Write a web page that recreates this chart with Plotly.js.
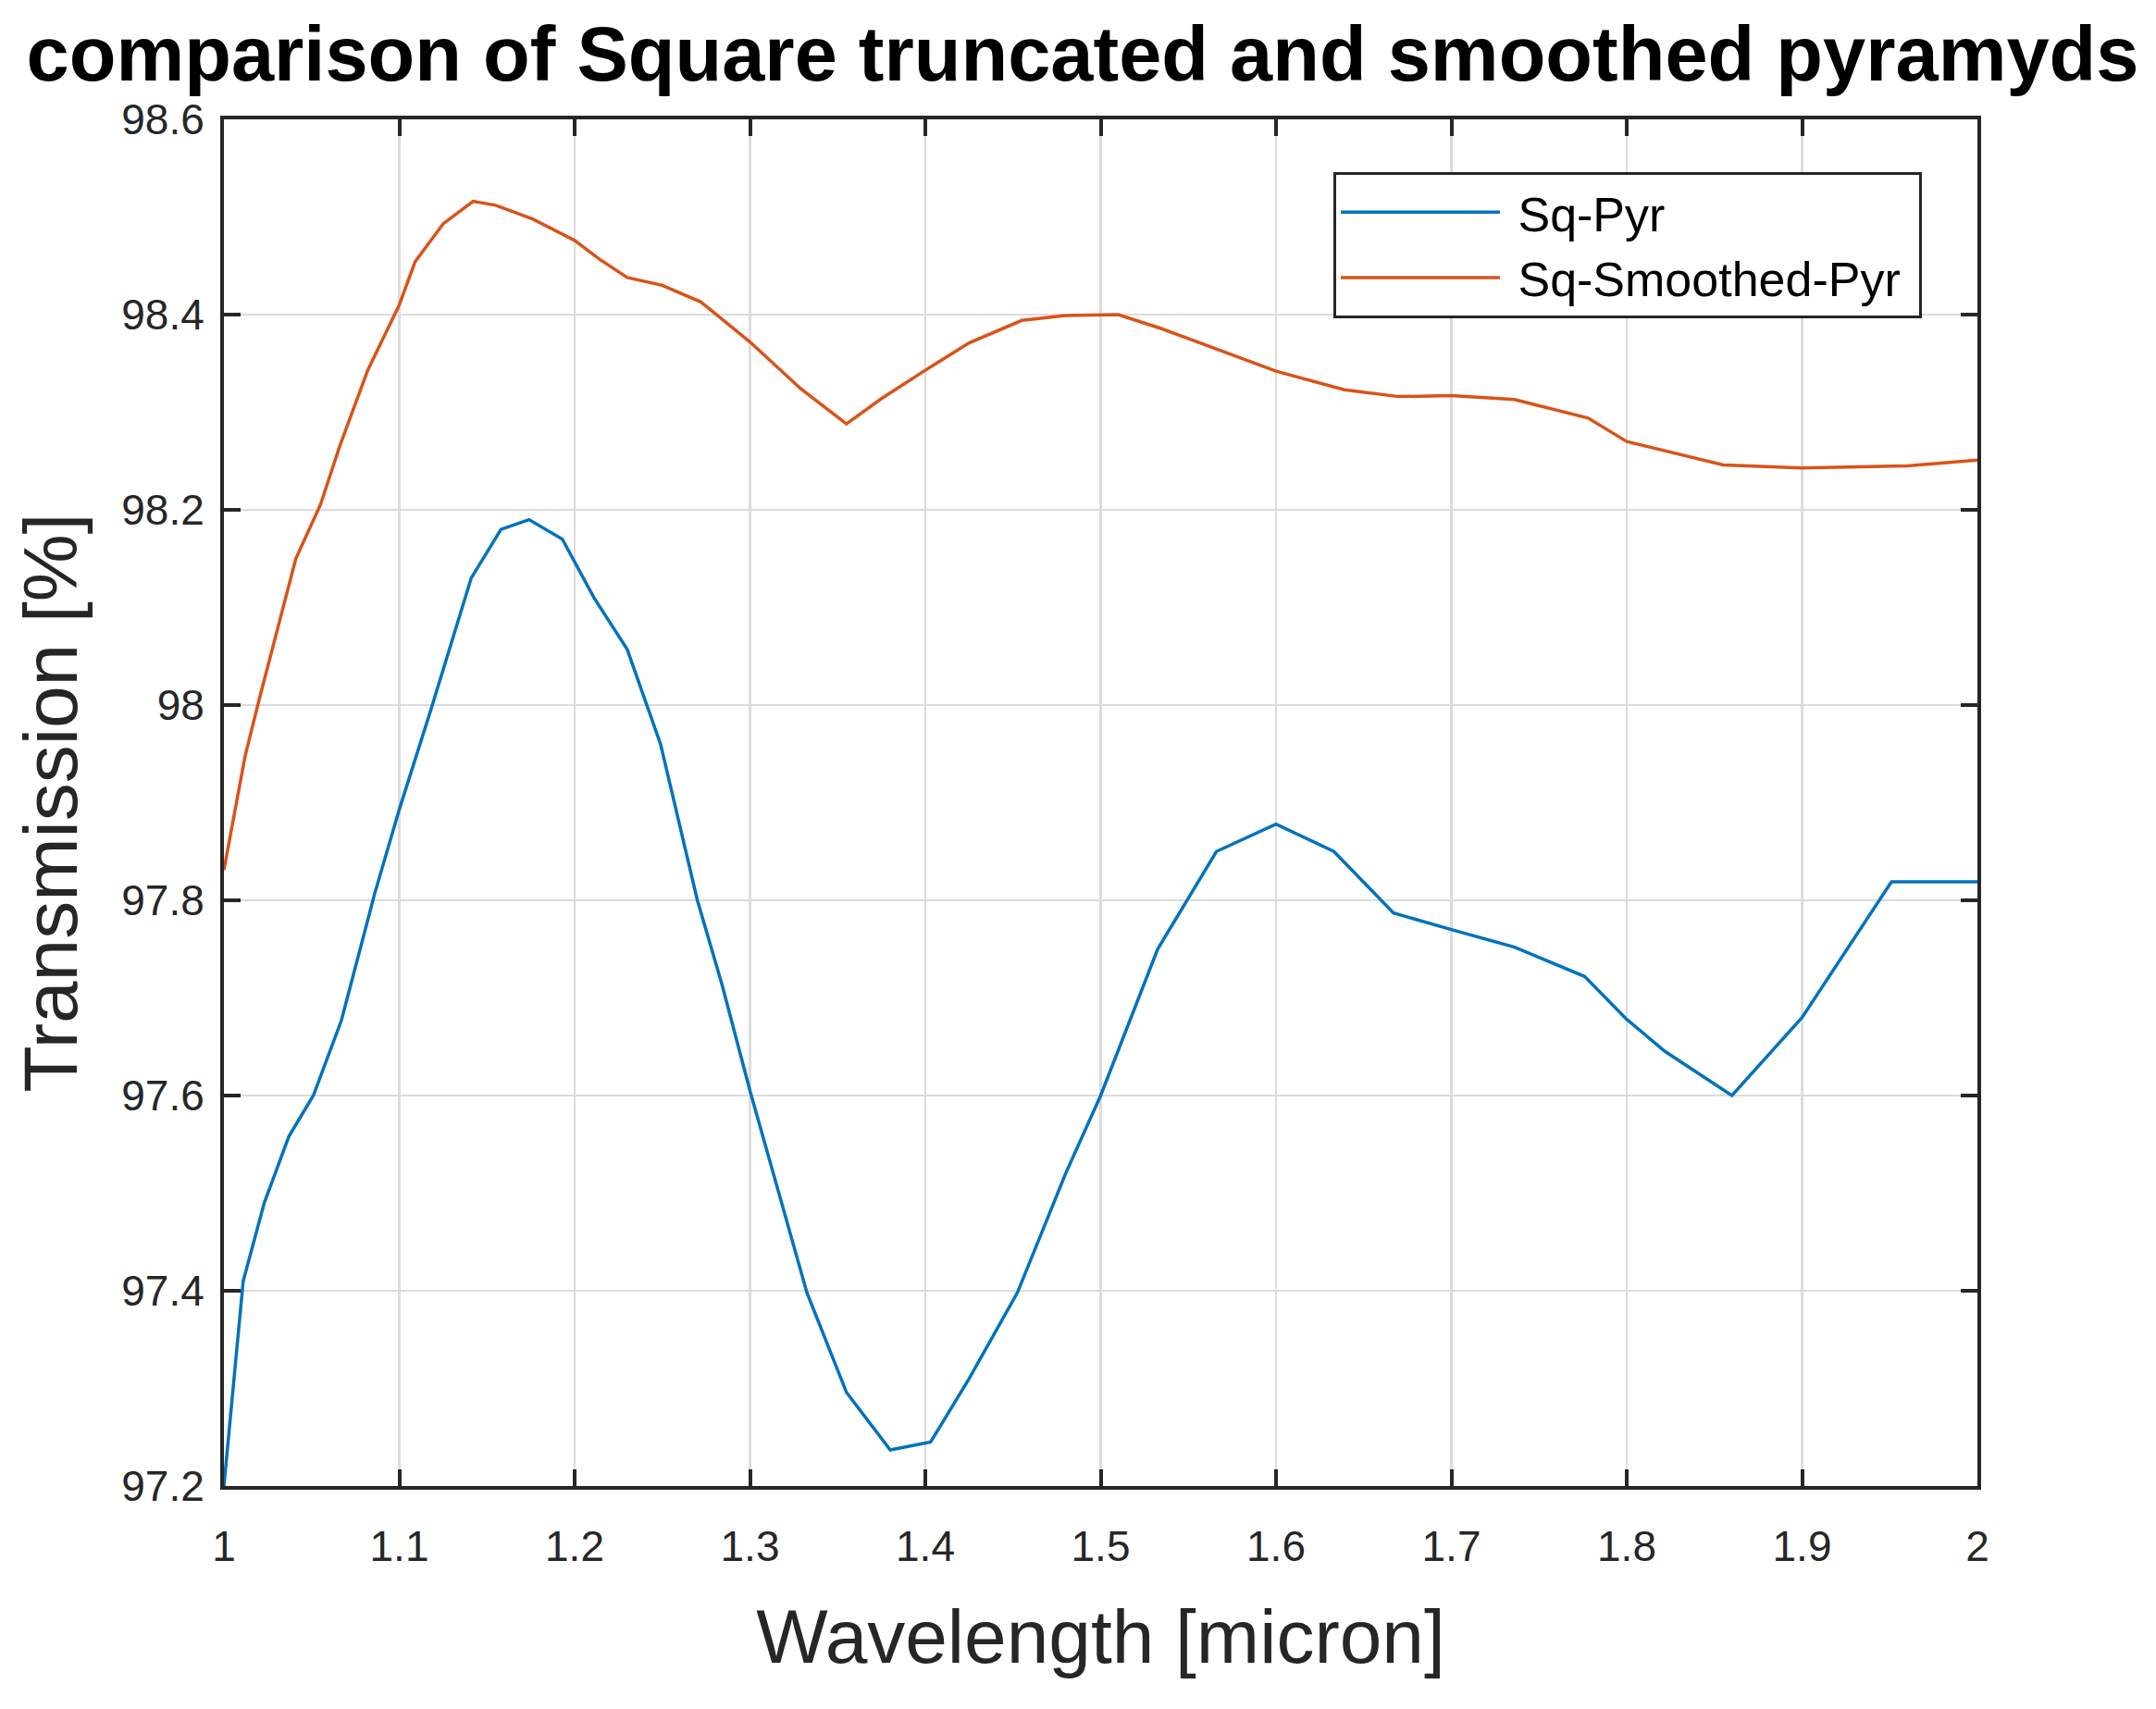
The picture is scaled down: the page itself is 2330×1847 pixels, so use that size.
<!DOCTYPE html>
<html>
<head>
<meta charset="utf-8">
<script src="https://cdn.plot.ly/plotly-3.0.1.min.js"></script>
<style>
  html, body { margin: 0; padding: 0; background: #fff; }
  #plot { width: 2330px; height: 1847px; }
</style>
</head>
<body>
<div id="plot"></div>
<script>
// Transmission of square truncated vs smoothed pyramids.

const WL_PYR = [
  1.000, 1.011, 1.023, 1.037, 1.051, 1.067, 1.086, 1.100, 1.118, 1.141,
  1.158, 1.174, 1.193, 1.211, 1.230, 1.249, 1.270, 1.284, 1.300, 1.3325,
  1.355, 1.380, 1.403, 1.425, 1.4525, 1.480, 1.500, 1.5325, 1.566, 1.600,
  1.633, 1.667, 1.700, 1.736, 1.776, 1.800, 1.822, 1.860, 1.900, 1.951,
  2.000,
];
const T_PYR = [
  97.200, 97.410, 97.490, 97.558, 97.600, 97.677, 97.807, 97.893, 97.995, 98.130,
  98.180, 98.190, 98.170, 98.110, 98.057, 97.960, 97.800, 97.714, 97.605, 97.398,
  97.296, 97.237, 97.245, 97.310, 97.398, 97.520, 97.600, 97.750, 97.850, 97.878,
  97.850, 97.787, 97.770, 97.752, 97.722, 97.678, 97.645, 97.600, 97.680, 97.819,
  97.819,
];

const WL_SMOOTH = [
  1.000, 1.012, 1.020, 1.029, 1.041, 1.055, 1.066, 1.082, 1.100, 1.109,
  1.125, 1.142, 1.155, 1.176, 1.200, 1.214, 1.230, 1.250, 1.272, 1.300,
  1.329, 1.355, 1.375, 1.400, 1.425, 1.455, 1.480, 1.510, 1.534, 1.567,
  1.600, 1.639, 1.670, 1.700, 1.736, 1.778, 1.800, 1.855, 1.900, 1.960,
  2.000,
];
const T_SMOOTH = [
  97.831, 97.947, 98.005, 98.068, 98.150, 98.205, 98.265, 98.343, 98.410, 98.454,
  98.493, 98.516, 98.512, 98.498, 98.476, 98.457, 98.438, 98.430, 98.413, 98.372,
  98.324, 98.288, 98.314, 98.343, 98.371, 98.394, 98.399, 98.400, 98.386, 98.364,
  98.342, 98.323, 98.316, 98.317, 98.313, 98.294, 98.270, 98.246, 98.243, 98.245,
  98.251,
];

const X_TICKS = [1, 1.1, 1.2, 1.3, 1.4, 1.5, 1.6, 1.7, 1.8, 1.9, 2];
const X_TICK_TEXT = ["1", "1.1", "1.2", "1.3", "1.4", "1.5", "1.6", "1.7", "1.8", "1.9", "2"];
const Y_TICKS = [97.2, 97.4, 97.6, 97.8, 98, 98.2, 98.4, 98.6];
const Y_TICK_TEXT = ["97.2", "97.4", "97.6", "97.8", "98", "98.2", "98.4", "98.6"];

const FONT = "'Liberation Sans', Arial, Helvetica, sans-serif";
const INK = "#262626";
// a little air either side of the legend labels, like the MATLAB box
const PAD = "\u00a0";

const traces = [
  {
    type: "scatter", mode: "lines", name: PAD + "Sq-Pyr" + PAD,
    x: WL_PYR, y: T_PYR,
    line: { color: "#0072BD", width: 3.5 },
  },
  {
    type: "scatter", mode: "lines", name: PAD + "Sq-Smoothed-Pyr" + PAD,
    x: WL_SMOOTH, y: T_SMOOTH,
    line: { color: "#D95319", width: 3.5 },
  },
];

const axisCommon = {
  ticks: "inside", ticklen: 18, tickwidth: 4, tickcolor: INK,
  showline: true, linewidth: 4, linecolor: INK, mirror: "ticks",
  showgrid: true, gridcolor: "#dcdcdc", gridwidth: 2.5,
  zeroline: false,
  tickfont: { family: FONT, size: 46, color: INK },
};

const layout = {
  width: 2330, height: 1847,
  paper_bgcolor: "#fff", plot_bgcolor: "#fff",
  margin: { l: 242, r: 193, t: 129, b: 241 },
  title: {
    text: "<b>comparison of Square truncated and smoothed pyramyds</b>",
    font: { family: FONT, size: 83, color: "#000" },
    x: 1170 / 2330, xanchor: "center", xref: "container",
    y: 1 - 58 / 1847, yanchor: "middle", yref: "container",
  },
  xaxis: Object.assign({}, axisCommon, {
    range: [1, 2], tickvals: X_TICKS, ticktext: X_TICK_TEXT,
    ticklabelstandoff: 22,
    title: { text: "Wavelength [micron]", font: { family: FONT, size: 82, color: INK }, standoff: 44 },
  }),
  yaxis: Object.assign({}, axisCommon, {
    range: [97.2, 98.6], tickvals: Y_TICKS, ticktext: Y_TICK_TEXT,
    ticklabelstandoff: 8,
    title: { text: "Transmission [%]", font: { family: FONT, size: 82, color: INK }, standoff: 22 },
  }),
  showlegend: true,
  legend: {
    x: (1441 - 242) / 1895, y: (1606 - 186) / 1477,
    xanchor: "left", yanchor: "top",
    bgcolor: "#fff", bordercolor: INK, borderwidth: 3,
    font: { family: FONT, size: 52, color: "#000" },
    itemwidth: 172,
  },
};

Plotly.newPlot("plot", traces, layout, { displayModeBar: false, staticPlot: true });
</script>
</body>
</html>
